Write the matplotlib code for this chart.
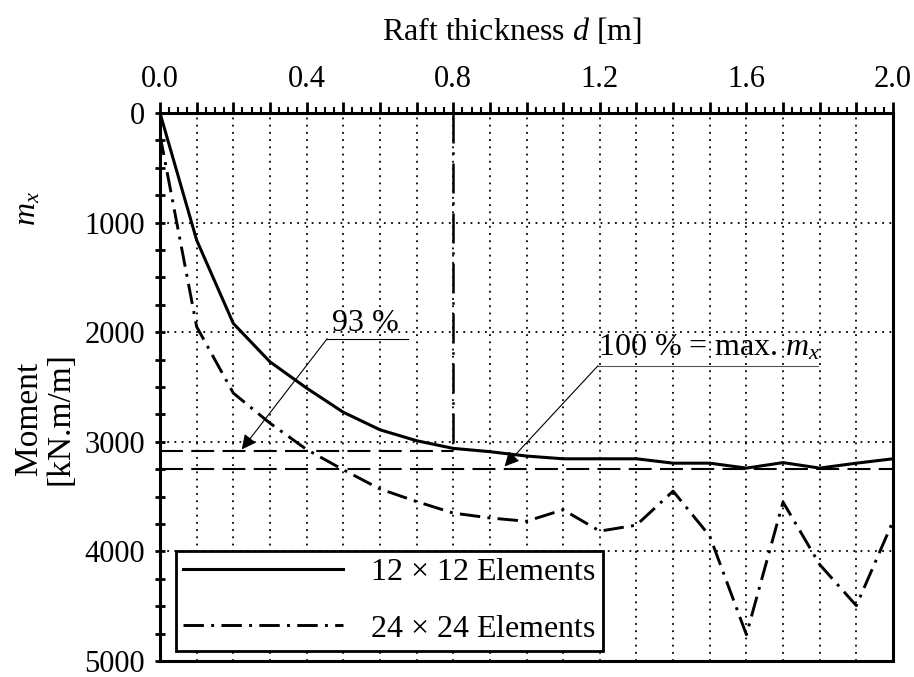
import numpy as np
import matplotlib
matplotlib.use("Agg")
import matplotlib.pyplot as plt
from matplotlib.ticker import MultipleLocator, FuncFormatter

plt.rcParams['font.family'] = ['Liberation Serif', 'DejaVu Serif']
plt.rcParams['mathtext.fontset'] = 'custom'
plt.rcParams['mathtext.rm'] = 'Liberation Serif'
plt.rcParams['mathtext.it'] = 'Liberation Serif:italic'

# raft thickness d [m]
d = [0.0, 0.1, 0.2, 0.3, 0.4, 0.5, 0.6, 0.7, 0.8, 0.9, 1.0,
     1.1, 1.2, 1.3, 1.4, 1.5, 1.6, 1.7, 1.8, 1.9, 2.0]
# moment m_x [kN.m/m]
m_12 = [0, 1160, 1920, 2270, 2510, 2730, 2890, 2990, 3060, 3090, 3130,
        3155, 3155, 3155, 3195, 3195, 3240, 3190, 3240, 3195, 3155]
m_24 = [200, 1950, 2555, 2830, 3070, 3255, 3430, 3545, 3650, 3695, 3725,
        3620, 3815, 3760, 3450, 3860, 4760, 3550, 4120, 4495, 3725]
labels = ['12 $\\times$ 12 Elements', '24 $\\times$ 24 Elements']

m_max = 3245      # 100 %
m_93 = 3080       # 93 % line
d_ref = 0.8

fig = plt.figure(figsize=(9.14, 6.77), dpi=100)
ax = fig.add_axes([160/914, 16/677, 733/914, 548/677])

ax.plot(d, m_12, color='black', lw=2.2, label=labels[0], zorder=5)
ax.plot(d, m_24, color='black', lw=2.1, ls=(0, (7, 2.5, 1, 2.5)),
        label=labels[1], zorder=5)

# reference lines
ax.plot([0, 2.0], [m_max, m_max], color='black', lw=1.5, ls=(0, (11, 4)), zorder=4)
ax.plot([0, d_ref], [m_93, m_93], color='black', lw=1.5, ls=(0, (11, 4)), zorder=4)
ax.plot([d_ref, d_ref], [0, m_93], color='black', lw=1.8,
        ls=(0, (12, 3.5, 1, 3.5)), zorder=4)

# annotations
ax.plot([0.456, 0.677], [2060, 2060], color='black', lw=0.8)
ax.annotate('', xy=(0.223, 3070), xytext=(0.456, 2060),
            arrowprops=dict(arrowstyle='-|>', color='black', lw=0.8,
                            mutation_scale=22, shrinkA=0, shrinkB=0))
ax.text(0.47, 1990, '93 %', fontsize=23, ha='left', va='baseline')

ax.plot([1.195, 1.795], [2306, 2306], color='#555555', lw=0.8)
ax.annotate('', xy=(0.94, 3225), xytext=(1.195, 2306),
            arrowprops=dict(arrowstyle='-|>', color='black', lw=0.8,
                            mutation_scale=22, shrinkA=0, shrinkB=0))
ax.text(1.195, 2210, '100 % = max. $m_x$', fontsize=23, ha='left', va='baseline')

ax.set_xlim(0, 2.0)
ax.set_ylim(5000, 0)

ax.xaxis.tick_top()
ax.xaxis.set_major_locator(MultipleLocator(0.1))
ax.xaxis.set_minor_locator(MultipleLocator(0.025))
ax.xaxis.set_major_formatter(FuncFormatter(
    lambda v, p: f'{v:.1f}' if abs(v / 0.4 - round(v / 0.4)) < 1e-6 else ''))
ax.yaxis.set_major_locator(MultipleLocator(1000))
ax.yaxis.set_minor_locator(MultipleLocator(250))

ax.tick_params(axis='x', which='major', direction='out', length=8, width=2,
               labelsize=22, pad=6)
ax.tick_params(axis='x', which='minor', direction='out', length=4, width=1.5)
ax.tick_params(axis='y', which='both', direction='inout', length=6.5, width=2,
               labelsize=22, pad=7.5)

for s in ax.spines.values():
    s.set_linewidth(2.2)

ax.grid(True, which='major', color='black', lw=1.3, ls=(0, (1, 3)))

ax.text(-0.18, 0.825, '$m_x$', transform=ax.transAxes, rotation=90,
        fontsize=23, ha='center', va='center')
fig.text(0.049, 0.382, 'Moment\n[kN.m/m]', rotation=90, fontsize=24,
         ha='center', va='center', multialignment='center', linespacing=1.05)
fig.text(0.56, 0.953, 'Raft thickness $d$ [m]', fontsize=23,
         ha='center', va='center')

leg = ax.legend(loc='lower left', bbox_to_anchor=(0.0218, 0.0188),
                borderaxespad=0, fontsize=23, frameon=True, fancybox=False,
                handlelength=5.0, handletextpad=0.85, labelspacing=0.85,
                borderpad=0.22, framealpha=1)
leg.get_frame().set_edgecolor('black')
leg.get_frame().set_linewidth(2.0)

fig.savefig('out.png', dpi=100)
